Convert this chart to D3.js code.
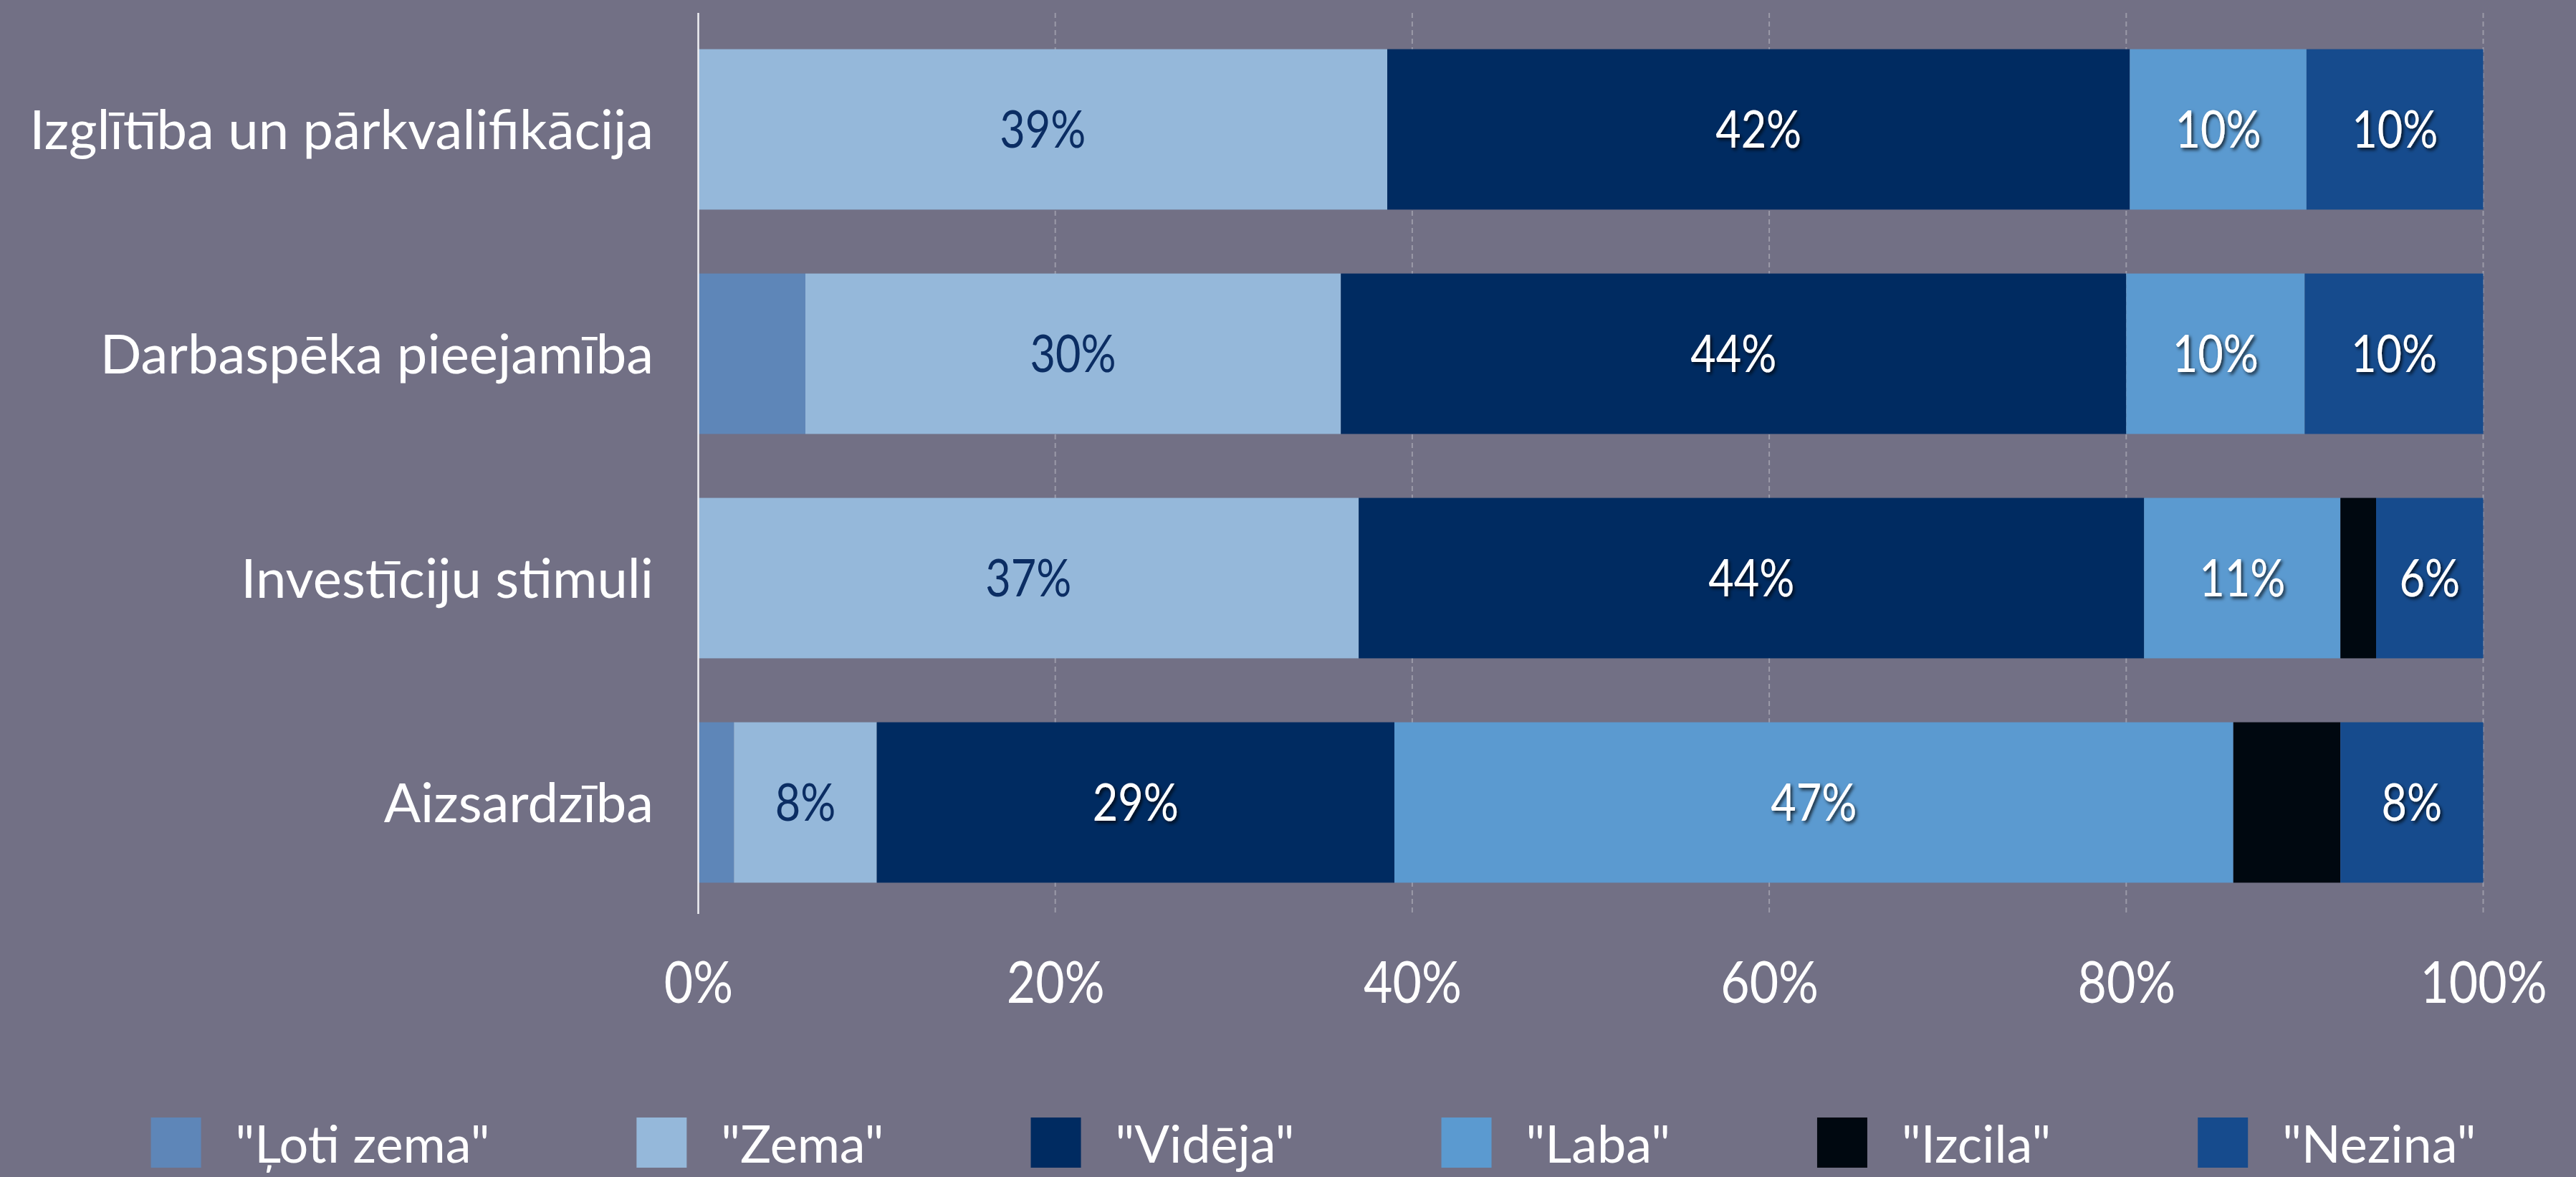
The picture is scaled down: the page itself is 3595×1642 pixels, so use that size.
<!DOCTYPE html>
<html>
<head>
<meta charset="utf-8">
<script src="https://cdn.jsdelivr.net/npm/d3@7"></script>
<style>
  html, body { margin: 0; padding: 0; background: #727085; }
  svg { display: block; }
</style>
</head>
<body>
<script>
// data (percent of answers)
const categories = ["Izglītība un pārkvalifikācija", "Darbaspēka pieejamība", "Investīciju stimuli", "Aizsardzība"];
const seriesNames = ["\"Ļoti zema\"", "\"Zema\"", "\"Vidēja\"", "\"Laba\"", "\"Izcila\"", "\"Nezina\""];
const lotiZema = [0, 6, 0, 2];
const zema     = [38.6, 30, 37, 8];
const videja   = [41.6, 44, 44, 29];
const laba     = [9.9, 10, 11, 47];
const izcila   = [0, 0, 2, 6];
const nezina   = [9.9, 10, 6, 8];
const xTicks = [0, 20, 40, 60, 80, 100];

const colors = ["#5e86b8", "#95b8da", "#002b61", "#5b9ad0", "#000810", "#164b8d"];
// which series carry value labels, and their colour
const labelled = [false, true, true, true, false, true];
const labelDark = [false, true, false, false, false, false];

const W = 3595, H = 1642;
const svg = d3.select("body").append("svg").attr("width", W).attr("height", H);

const defs = svg.append("defs");
defs.append("filter").attr("id", "shadow")
    .attr("x", "-20%").attr("y", "-20%").attr("width", "150%").attr("height", "160%")
  .append("feDropShadow")
    .attr("dx", 3).attr("dy", 3).attr("stdDeviation", 2.5)
    .attr("flood-color", "#000").attr("flood-opacity", 0.75);

const x = d3.scaleLinear().domain([0, 100]).range([974.5, 3465.5]);
const y = d3.scaleBand().domain(categories).range([24, 1276]).paddingInner(0.285).paddingOuter(0.1425);

const rows = categories.map((c, i) => {
  const r = { cat: c };
  [lotiZema, zema, videja, laba, izcila, nezina].forEach((s, k) => r[k] = s[i]);
  return r;
});
const stacked = d3.stack().keys(d3.range(seriesNames.length))(rows);

// grid
svg.append("g")
  .selectAll("line").data(xTicks.slice(1)).join("line")
    .attr("x1", d => x(d)).attr("x2", d => x(d))
    .attr("y1", 18).attr("y2", 1274)
    .attr("stroke", "#9b9aa8").attr("stroke-width", 2)
    .attr("stroke-dasharray", "7,5");

// bars
const layers = svg.append("g").selectAll("g").data(stacked).join("g")
    .attr("fill", d => colors[d.key]);
layers.selectAll("rect").data(d => d).join("rect")
    .attr("x", d => x(d[0]))
    .attr("width", d => x(d[1]) - x(d[0]))
    .attr("y", d => y(d.data.cat))
    .attr("height", y.bandwidth());

// value labels (narrowed a bit, the original face is a condensed geometric sans)
stacked.forEach(layer => {
  if (!labelled[layer.key]) return;
  svg.append("g").selectAll("g").data(layer.filter(d => d[1] - d[0] > 0)).join("g")
      .attr("transform", d => `translate(${x((d[0] + d[1]) / 2)},${y(d.data.cat) + y.bandwidth() / 2}) scale(0.85,1)`)
    .append("text")
      .attr("dy", "0.36em")
      .attr("text-anchor", "middle")
      .attr("font-family", "Lato, sans-serif")
      .attr("font-size", 72)
      .attr("fill", labelDark[layer.key] ? "#0b2d63" : "#fff")
      .attr("filter", labelDark[layer.key] ? null : "url(#shadow)")
      .text(d => Math.round(d[1] - d[0]) + "%");
});

// axis line
svg.append("line")
    .attr("x1", 974.5).attr("x2", 974.5).attr("y1", 18).attr("y2", 1275)
    .attr("stroke", "#f0f0f4").attr("stroke-width", 2.5);

// category labels
svg.append("g").selectAll("text").data(categories).join("text")
    .attr("x", 912)
    .attr("y", d => y(d) + y.bandwidth() / 2)
    .attr("dy", "0.36em")
    .attr("text-anchor", "end")
    .attr("font-family", "Lato, sans-serif")
    .attr("font-size", 76)
    .attr("fill", "#fff")
    .text(d => d);

// x axis tick labels
const xAxis = d3.axisBottom(x).tickValues(xTicks).tickFormat(d => d + "%").tickSize(0).tickPadding(0);
const gx = svg.append("g").attr("transform", "translate(0,1399)").call(xAxis);
gx.select(".domain").remove();
gx.selectAll("text")
    .attr("dy", 0).attr("y", 0)
    .attr("transform", "scale(0.85,1)")
    .attr("font-family", "Lato, sans-serif")
    .attr("font-size", 82)
    .attr("fill", "#fff");

// legend
const legend = svg.append("g");
const items = legend.selectAll("g").data(seriesNames).join("g");
items.append("rect")
    .attr("width", 70).attr("height", 70)
    .attr("y", 1559)
    .attr("fill", (d, i) => colors[i]);
items.append("text")
    .attr("x", 118).attr("y", 1622)
    .attr("font-family", "Lato, sans-serif")
    .attr("font-size", 72)
    .attr("fill", "#fff")
    .text(d => d);
const gap = 205;
let pos = 0;
const offsets = [];
items.each(function() {
  offsets.push(pos);
  const tw = d3.select(this).select("text").node().getComputedTextLength();
  pos += 118 + tw + gap;
});
const total = pos - gap;
const start = 1833 - total / 2;
items.attr("transform", (d, i) => `translate(${start + offsets[i]},0)`);
</script>
</body>
</html>
